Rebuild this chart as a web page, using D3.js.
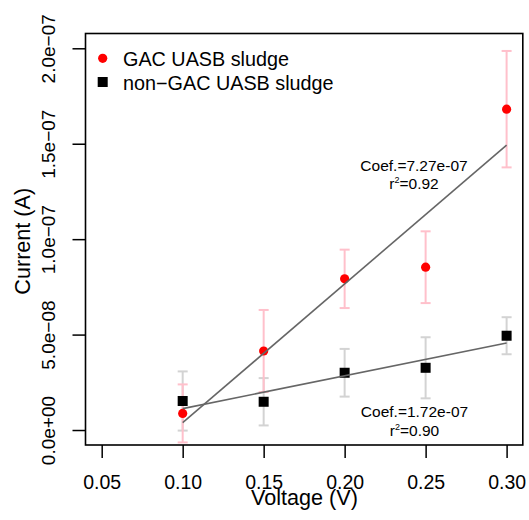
<!DOCTYPE html>
<html>
<head>
<meta charset="utf-8">
<script src="https://cdn.jsdelivr.net/npm/d3@7"></script>
<style>
  html, body { margin: 0; padding: 0; background: #fff; }
  svg { display: block; font-family: "Liberation Sans", Arial, Helvetica, sans-serif; }
</style>
</head>
<body>
<svg id="chart" width="529" height="520"></svg>
<script>
// Applied voltage (V)
const voltage = [0.10, 0.15, 0.20, 0.25, 0.30];

// Mean current (A) and standard errors for each sludge type
const gacMean = [0.87e-8, 4.14e-8, 7.92e-8, 8.53e-8, 16.81e-8];
const gacErr  = [1.52e-8, 2.15e-8, 1.53e-8, 1.88e-8, 3.05e-8];
const nonGacMean = [1.52e-8, 1.48e-8, 3.00e-8, 3.26e-8, 4.94e-8];
const nonGacErr  = [1.55e-8, 1.24e-8, 1.25e-8, 1.60e-8, 0.97e-8];

// Fitted slopes and r² reported on the chart
const gacCoef = 7.27e-7, gacR2 = "0.92";
const nonGacCoef = 1.72e-7, nonGacR2 = "0.90";

// Axis ticks
const xTicks = [0.05, 0.10, 0.15, 0.20, 0.25, 0.30];
const xTickLabels = ["0.05", "0.10", "0.15", "0.20", "0.25", "0.30"];
const yTicks = [0, 5e-8, 1e-7, 1.5e-7, 2e-7];
const yTickLabels = ["0.0e+00", "5.0e\u221208", "1.0e\u221207", "1.5e\u221207", "2.0e\u221207"];

const seriesNames = ["GAC UASB sludge", "non\u2212GAC UASB sludge"];

const svg = d3.select("#chart");
const box = { left: 85.5, right: 522.8, top: 33.5, bottom: 445 };

const x = d3.scaleLinear().domain([0.04, 0.31]).range([box.left, box.right]);
const y = d3.scaleLinear().domain([-7.85e-9, 2.0775e-7]).range([box.bottom, box.top]);

// Regression line through the means with a given slope
function fitLine(xs, ys, slope) {
  const mx = d3.mean(xs), my = d3.mean(ys);
  const b = my - slope * mx;
  const x0 = d3.min(xs), x1 = d3.max(xs);
  return [[x0, b + slope * x0], [x1, b + slope * x1]];
}

// Axes (ticks only; the frame is drawn separately)
const xAxis = d3.axisBottom(x).tickValues(xTicks)
  .tickFormat((d, i) => xTickLabels[i]).tickSize(13).tickPadding(17.5);
const gx = svg.append("g").attr("transform", `translate(0,${box.bottom})`).call(xAxis);
gx.select(".domain").remove();
gx.selectAll(".tick line").attr("stroke", "#000").attr("stroke-width", 1.5);
gx.selectAll(".tick text").attr("fill", "#000").attr("font-size", 19.5)
  .attr("font-family", "Liberation Sans, Arial, sans-serif");

const yAxis = d3.axisLeft(y).tickValues(yTicks)
  .tickFormat((d, i) => yTickLabels[i]).tickSize(13).tickPadding(0);
const gy = svg.append("g").attr("transform", `translate(${box.left},0)`).call(yAxis);
gy.select(".domain").remove();
gy.selectAll(".tick line").attr("stroke", "#000").attr("stroke-width", 1.5);
gy.selectAll(".tick text")
  .attr("fill", "#000").attr("font-size", 19)
  .attr("font-family", "Liberation Sans, Arial, sans-serif")
  .attr("x", null).attr("dy", null)
  .attr("text-anchor", "middle")
  .attr("transform", "translate(-30.5,0) rotate(-90)");

// Axis titles
svg.append("text").attr("x", 304.5).attr("y", 505)
  .attr("text-anchor", "middle").attr("font-size", 21.6).text("Voltage (V)");
svg.append("text")
  .attr("transform", `translate(30,${(box.top + box.bottom) / 2 + 2}) rotate(-90)`)
  .attr("text-anchor", "middle").attr("font-size", 21.6).text("Current (A)");

// Error bars
function errorBars(means, errs, color) {
  const g = svg.append("g").attr("stroke", color).attr("stroke-width", 2);
  voltage.forEach((v, i) => {
    const cx = x(v), lo = y(means[i] - errs[i]), hi = y(means[i] + errs[i]);
    g.append("line").attr("x1", cx).attr("x2", cx).attr("y1", lo).attr("y2", hi);
    g.append("line").attr("x1", cx - 5).attr("x2", cx + 5).attr("y1", lo).attr("y2", lo);
    g.append("line").attr("x1", cx - 5).attr("x2", cx + 5).attr("y1", hi).attr("y2", hi);
  });
}
errorBars(nonGacMean, nonGacErr, "#d3d3d3");
errorBars(gacMean, gacErr, "#ffc0cb");

// Points
svg.append("g").selectAll("rect").data(voltage).join("rect")
  .attr("x", d => x(d) - 5).attr("y", (d, i) => y(nonGacMean[i]) - 5)
  .attr("width", 10).attr("height", 10).attr("fill", "#000");
svg.append("g").selectAll("circle").data(voltage).join("circle")
  .attr("cx", d => x(d)).attr("cy", (d, i) => y(gacMean[i]))
  .attr("r", 4.6).attr("fill", "#ff0000");

// Regression lines
const line = d3.line().x(d => x(d[0])).y(d => y(d[1]));
[[gacMean, gacCoef], [nonGacMean, nonGacCoef]].forEach(([ys, k]) => {
  svg.append("path").attr("d", line(fitLine(voltage, ys, k)))
    .attr("fill", "none").attr("stroke", "#666666").attr("stroke-width", 1.6);
});

// Fit annotations
function annotate(cx, yTop, coef, r2) {
  const t = svg.append("g").attr("font-size", 15.5).attr("text-anchor", "middle").attr("fill", "#000");
  t.append("text").attr("x", cx).attr("y", yTop).text("Coef.=" + coef.toExponential(2).replace(/e([+-])(\d)$/, "e$10$2"));
  const r = t.append("text").attr("x", cx).attr("y", yTop + 18.5);
  r.append("tspan").text("r");
  r.append("tspan").attr("font-size", 9).attr("dy", -6).text("2");
  r.append("tspan").attr("dy", 6).text("=" + r2);
}
annotate(414, 170.5, gacCoef, gacR2);
annotate(414.5, 417, nonGacCoef, nonGacR2);

// Legend
const legend = svg.append("g").attr("font-size", 19.8);
legend.append("circle").attr("cx", 102.7).attr("cy", 58.3).attr("r", 4.6).attr("fill", "#ff0000");
legend.append("rect").attr("x", 97.7).attr("y", 77).attr("width", 10).attr("height", 10).attr("fill", "#000");
legend.append("text").attr("x", 123).attr("y", 66).text(seriesNames[0]);
legend.append("text").attr("x", 123).attr("y", 90).text(seriesNames[1]);

// Plot frame
svg.append("rect").attr("x", box.left).attr("y", box.top)
  .attr("width", box.right - box.left).attr("height", box.bottom - box.top)
  .attr("fill", "none").attr("stroke", "#000").attr("stroke-width", 1.6);
</script>
</body>
</html>
